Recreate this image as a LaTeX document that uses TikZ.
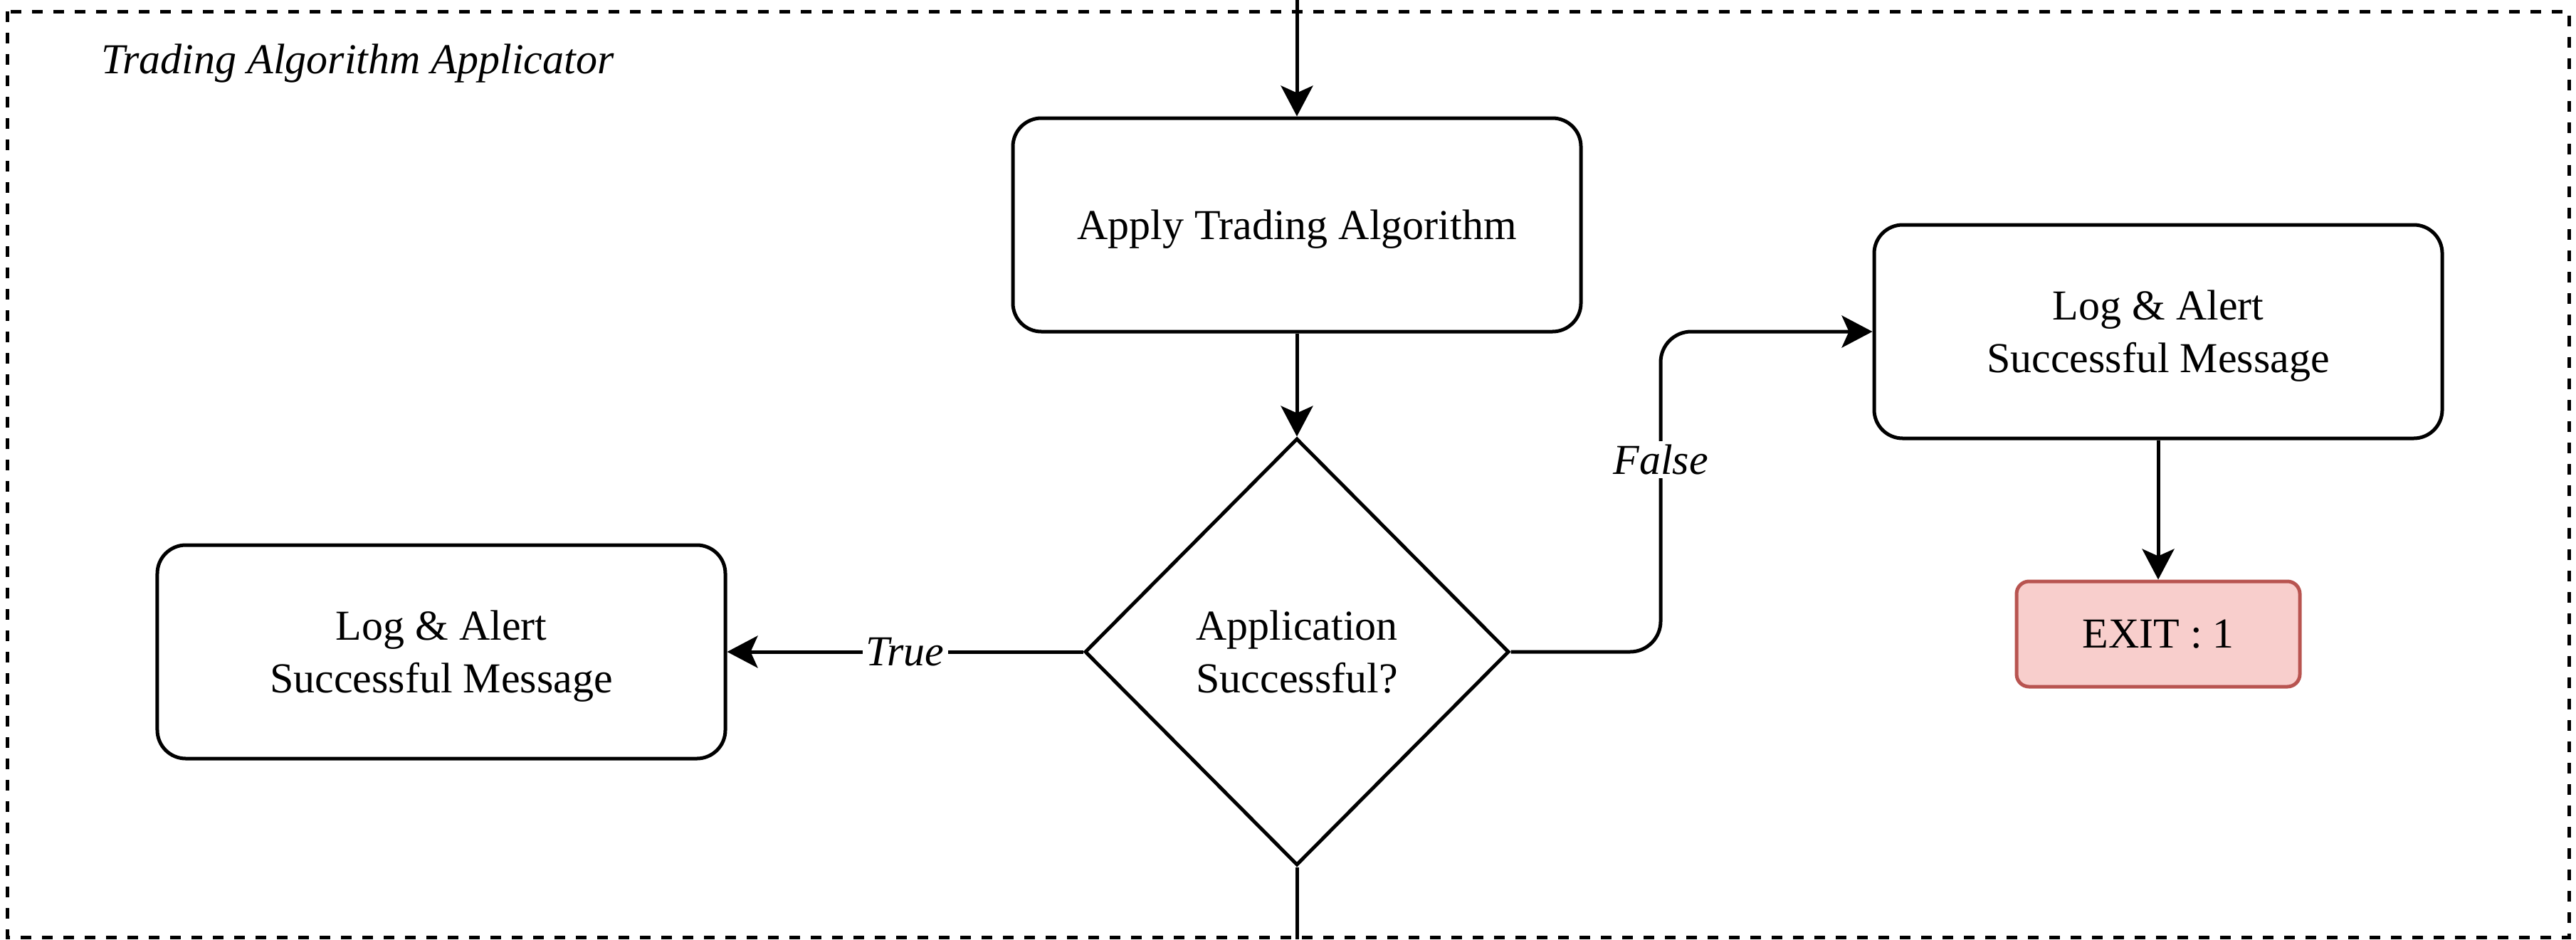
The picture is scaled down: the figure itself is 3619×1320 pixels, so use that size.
\documentclass[tikz,border=0pt]{standalone}
\usepackage{fontspec}
\setmainfont{Liberation Serif}
\usetikzlibrary{arrows.meta,shapes.geometric}
\definecolor{exitfill}{HTML}{F8CECC}
\definecolor{exitdraw}{HTML}{B85450}
\begin{document}
\begin{tikzpicture}[x=0.2pt,y=-0.2pt,
  font=\fontsize{12}{14.8}\selectfont,
  every node/.style={line width=1pt},
  procbox/.style={draw, rounded corners=8pt, minimum width=159.6pt, minimum height=60pt, align=center, inner sep=0pt, text depth=0pt},
  decbox/.style={draw, diamond, minimum width=119.2pt, minimum height=120pt, inner sep=0pt, align=center},
  exitbox/.style={draw=exitdraw, fill=exitfill, rounded corners=3.5pt, minimum width=79.6pt, minimum height=29.6pt, inner sep=0pt},
  arr/.style={line width=1pt, -{Stealth[length=8.6pt,width=9pt,inset=2pt]}},
  conn/.style={line width=1pt},
  lbl/.style={fill=white, inner sep=1pt, font=\fontsize{12}{14.8}\selectfont\itshape},
  frame/.style={draw, line width=1pt, dash pattern=on 3pt off 3pt}
]
\useasboundingbox (0,0) rectangle (3619,1320);
\draw[frame] (10,16) rectangle (3609,1317);
\node[anchor=base west, inner sep=0pt, font=\fontsize{12}{14.8}\selectfont\itshape] (title) at (140,103) {Trading Algorithm Applicator};

\node[procbox] (apply) at (1822,316) {Apply Trading Algorithm};
\node[decbox] (dec) at (1822,916) {Application\\Successful?};
\node[procbox] (lbox) at (620,916) {Log \& Alert\\Successful Message};
\node[procbox] (rbox) at (3032,466) {Log \& Alert\\Successful Message};
\node[exitbox] (exit) at (3032,891) {EXIT : 1};

\coordinate (topin) at (1822,0);
\coordinate (botout) at (1822,1320);
\coordinate (fx) at (2333,916);

\draw[arr] (topin) -- (apply.north);
\draw[arr] (apply.south) -- (dec.north);
\draw[conn] (dec.south) -- (botout);
\draw[arr] (dec.west) -- node[lbl, midway] (tlbl) {True} (lbox.east);
\draw[arr, rounded corners=8.6pt] (dec.east) -| (fx |- rbox.west) -- (rbox.west);
\node[lbl] (flbl) at (2333,646) {False};
\draw[arr] (rbox.south) -- (exit.north);
\end{tikzpicture}
\end{document}
